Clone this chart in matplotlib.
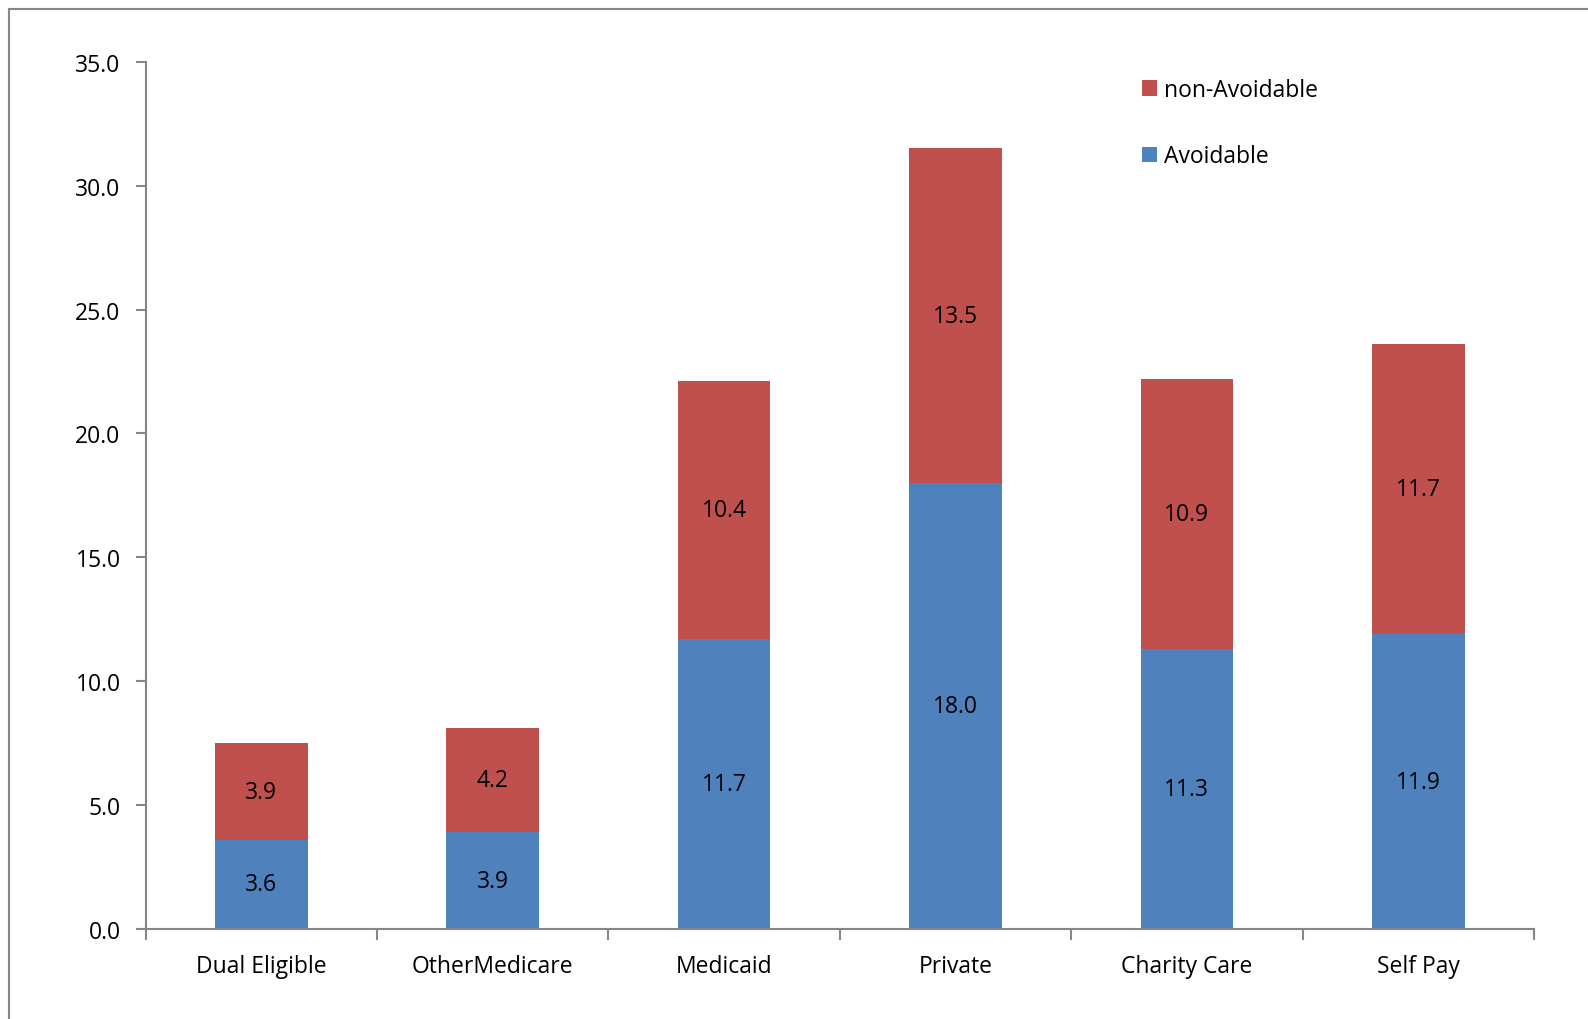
import numpy as np
import matplotlib.pyplot as plt
from matplotlib.lines import Line2D

categories = ['Dual Eligible', 'OtherMedicare', 'Medicaid', 'Private', 'Charity Care', 'Self Pay']
avoidable = [3.6, 3.9, 11.7, 18.0, 11.3, 11.9]
non_avoidable = [3.9, 4.2, 10.4, 13.5, 10.9, 11.7]
yticks = [0.0, 5.0, 10.0, 15.0, 20.0, 25.0, 30.0, 35.0]

blue = '#4F81BD'
red = '#C0504D'
axis_grey = '#868686'
fs = 16.5

plt.rcParams['font.family'] = ['Open Sans', 'DejaVu Sans']

fig = plt.figure(figsize=(15.88, 10.2), dpi=100)
ax = fig.add_axes([0.0917, 0.0882, 0.8743, 0.8503])

x = np.arange(len(categories))
b1 = ax.bar(x, avoidable, width=0.40, color=blue, label='Avoidable')
b2 = ax.bar(x, non_avoidable, width=0.40, bottom=avoidable, color=red, label='non-Avoidable')

# value labels centred in each segment
for rect, v in zip(b1, avoidable):
    ax.text(rect.get_x() + rect.get_width() / 2, v / 2, f'{v:.1f}',
            ha='center', va='center', fontsize=fs, color='black')
for rect, base, v in zip(b2, avoidable, non_avoidable):
    ax.text(rect.get_x() + rect.get_width() / 2, base + v / 2, f'{v:.1f}',
            ha='center', va='center', fontsize=fs, color='black')

ax.set_xlim(-0.5, len(categories) - 0.5)
ax.set_ylim(0, 35)
ax.set_yticks(yticks)
ax.set_yticklabels([f'{t:.1f}' for t in yticks], fontsize=fs)

# category labels without ticks, tick marks on category boundaries
ax.set_xticks(x)
ax.set_xticklabels(categories, fontsize=fs)
ax.tick_params(axis='x', length=0, pad=18)
ax.set_xticks(np.arange(-0.5, len(categories)), minor=True)
ax.tick_params(axis='x', which='minor', length=8, width=1.5, color=axis_grey, direction='out')
ax.tick_params(axis='y', length=7, width=1.5, color=axis_grey, direction='out', pad=11)

for side in ['top', 'right']:
    ax.spines[side].set_visible(False)
for side in ['left', 'bottom']:
    ax.spines[side].set_color(axis_grey)
    ax.spines[side].set_linewidth(1.5)

handles = [b2, b1]
ax.legend(handles, ['non-Avoidable', 'Avoidable'], loc='upper left',
          bbox_to_anchor=(0.703, 1.005), frameon=False, fontsize=fs,
          handlelength=0.65, handleheight=0.65, handletextpad=0.3, labelspacing=1.85)

# outer chart border
fig.add_artist(Line2D([9 / 1588, 9 / 1588], [0, 1 - 10 / 1020], color=axis_grey, lw=1.5))
fig.add_artist(Line2D([9 / 1588, 1], [1 - 10 / 1020, 1 - 10 / 1020], color=axis_grey, lw=1.5))

fig.savefig('out.png', dpi=100)
